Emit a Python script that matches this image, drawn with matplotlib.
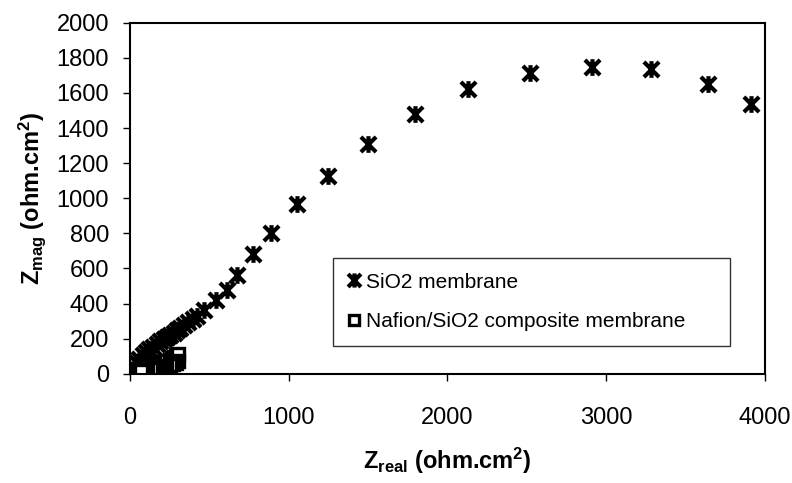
import matplotlib
matplotlib.use("Agg")
import matplotlib.pyplot as plt
from matplotlib.path import Path

plt.rcParams['font.family'] = ['Liberation Sans', 'DejaVu Sans']
plt.rcParams['mathtext.fontset'] = 'custom'
plt.rcParams['mathtext.rm'] = 'Liberation Sans:bold'
plt.rcParams['mathtext.bf'] = 'Liberation Sans:bold'
plt.rcParams['mathtext.it'] = 'Liberation Sans:bold'

# Nyquist data, SiO2 membrane
sio2_real = [10, 25, 40, 60, 80, 100, 120, 145, 170, 190, 215, 235, 255, 275,
             295, 315, 340, 365, 395, 425, 465, 545, 610, 675, 775, 890, 1050,
             1245, 1500, 1795, 2130, 2520, 2910, 3280, 3640, 3910]
sio2_mag = [20, 40, 65, 85, 105, 125, 140, 155, 170, 185, 200, 210, 222, 235,
            248, 262, 280, 298, 310, 328, 365, 420, 480, 565, 680, 805, 970,
            1125, 1310, 1480, 1625, 1715, 1750, 1735, 1650, 1535]

# Nafion/SiO2 composite membrane
naf_real = [5, 15, 25, 40, 55, 70, 90, 110, 130, 150, 170, 190, 210, 230,
            250, 265, 280, 290, 300, 300, 290, 270, 250, 230, 210, 190, 170,
            150, 130, 110, 90, 70]
naf_mag = [5, 8, 12, 16, 20, 25, 30, 36, 42, 48, 54, 60, 66, 73, 80, 88, 96,
           105, 115, 75, 60, 55, 50, 45, 40, 36, 32, 28, 25, 22, 18, 15]

# X with a vertical bar through it
star = Path([(-1, -1), (1, 1), (-1, 1), (1, -1), (0, -1.1), (0, 1.1)],
            [Path.MOVETO, Path.LINETO, Path.MOVETO, Path.LINETO,
             Path.MOVETO, Path.LINETO])

fig = plt.figure(figsize=(7.92, 4.83), dpi=100)
ax = fig.add_axes([0.164, 0.226, 0.802, 0.727])

ax.plot(sio2_real, sio2_mag, linestyle='none', marker=star,
        markersize=12, markeredgewidth=3.0, color='black',
        label='SiO2 membrane')
ax.plot(naf_real, naf_mag, linestyle='none', marker='s', markersize=8,
        markerfacecolor='white', markeredgecolor='black',
        markeredgewidth=2.4, label='Nafion/SiO2 composite membrane')

ax.set_xlim(0, 4000)
ax.set_ylim(0, 2000)
ax.set_xticks([0, 1000, 2000, 3000, 4000])
ax.set_yticks(range(0, 2001, 200))
ax.tick_params(direction='out', length=5, width=1, labelsize=17)
ax.tick_params(axis='x', pad=19)
ax.tick_params(axis='y', pad=10)
for s in ax.spines.values():
    s.set_linewidth(1.5)

ax.set_xlabel(r'Z$_{\mathrm{real}}$ (ohm.cm$^{\mathrm{2}}$)',
              fontsize=17, fontweight='bold', labelpad=12)
ax.set_ylabel(r'Z$_{\mathrm{mag}}$ (ohm.cm$^{\mathrm{2}}$)',
              fontsize=17, fontweight='bold', labelpad=6)

leg = ax.legend(loc='upper left', bbox_to_anchor=(0.320, 0.08, 0.624, 0.25),
                mode='expand', fontsize=15, frameon=True, fancybox=False,
                handlelength=0.6, handletextpad=0.3, borderpad=0.7,
                labelspacing=1.0, markerscale=0.85, borderaxespad=0)
leg.get_frame().set_edgecolor('black')
leg.get_frame().set_linewidth(1.0)

fig.savefig('out.png', dpi=100)
